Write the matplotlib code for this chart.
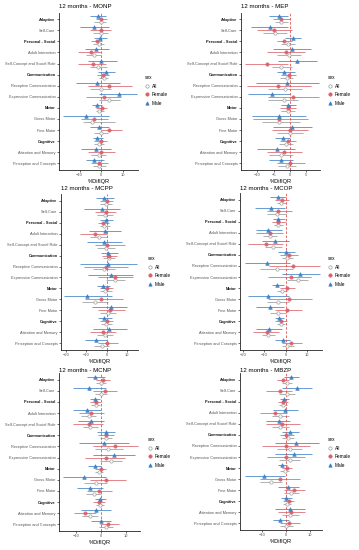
# forest plots: %DifIQR by sex, 12 months, six exposures

import matplotlib
matplotlib.use("Agg")
import matplotlib.pyplot as plt
from matplotlib.lines import Line2D

plt.rcParams['font.family'] = ['Liberation Sans', 'DejaVu Sans']

categories = ["Adaptive", "Self-Care", "Personal - Social", "Adult Interaction",
              "Self-Concept and Social Role", "Communication", "Receptive Communication",
              "Expressive Communication", "Motor", "Gross Motor", "Fine Motor",
              "Cognitive", "Attention and Memory", "Perception and Concepts"]
bold_cats = ["Adaptive", "Personal - Social", "Communication", "Motor", "Cognitive"]
titles = ["12 months - MONP", "12 months - MEP", "12 months - MCPP",
          "12 months - MCOP", "12 months - MCNP", "12 months - MBZP"]
sexes = ["All", "Female", "Male"]

# (estimate, lower, upper) for each category
monp_all = [(-0.3,-3.1,2.0), (0.0,-3.8,3.1), (-1.1,-3.8,1.5), (-3.4,-6.9,0.0), (-1.4,-5.4,2.6),
            (1.1,-1.1,3.1), (0.0,-5.4,4.6), (3.8,-0.8,8.5), (-0.8,-2.6,1.5), (-4.2,-8.5,6.2),
            (0.0,-3.1,3.1), (-1.1,-3.1,1.1), (-1.2,-4.6,2.3), (-1.1,-3.8,2.0)]
monp_female = [(0.0,-2.6,2.6), (0.0,-5.4,4.6), (-2.0,-4.6,0.5), (-4.6,-10.8,0.0), (-3.8,-10.8,2.0),
               (0.8,-2.0,3.8), (3.8,-6.2,14.3), (1.1,-7.2,9.2), (0.2,-2.3,2.6), (-3.5,-9.2,3.1),
               (3.8,0.0,9.7), (-0.3,-3.1,2.6), (0.0,-6.2,6.2), (-1.1,-4.6,3.1)]
monp_male = [(-1.5,-5.4,2.3), (-3.1,-10.0,3.8), (-0.5,-3.1,2.6), (-2.3,-7.7,3.5), (0.0,-6.2,7.2),
             (2.0,-1.5,6.2), (-1.8,-11.8,8.8), (8.2,-0.8,16.5), (-1.8,-4.1,0.5), (-7.2,-17.7,3.8),
             (-0.8,-5.4,3.8), (-1.8,-3.8,0.8), (-2.3,-9.2,4.6), (-3.1,-7.2,1.1)]

mep_all = [(-2.6,-4.6,-0.5), (-4.6,-8.2,-1.0), (-0.5,-2.6,1.5), (-0.2,-3.9,3.3), (-2.6,-5.6,0.5),
           (-1.0,-3.1,1.0), (-1.5,-6.6,3.6), (-1.8,-6.6,2.6), (-0.5,-2.6,1.5), (-3.3,-8.7,3.1),
           (0.0,-4.1,4.1), (-1.2,-3.3,1.0), (-2.6,-6.3,1.0), (-0.8,-3.6,2.0)]
mep_female = [(-2.6,-5.3,0.0), (-4.9,-10.0,0.5), (-1.8,-4.1,0.5), (-1.2,-6.9,4.6), (-7.1,-13.8,-0.5),
              (-0.2,-2.6,2.0), (-3.6,-13.3,6.3), (1.0,-6.6,9.0), (-0.5,-3.1,2.0), (-3.3,-11.4,5.4),
              (0.0,-5.6,5.6), (-0.5,-3.1,2.0), (-1.8,-6.9,3.6), (0.0,-4.1,4.6)]
mep_male = [(-3.3,-6.3,-0.5), (-6.1,-12.0,-0.5), (0.8,-1.5,3.3), (0.5,-5.1,6.3), (2.2,-3.6,8.4),
            (-1.8,-4.1,1.5), (-0.8,-10.4,9.0), (-5.4,-12.8,0.0), (-0.5,-2.9,2.0), (-3.4,-11.7,4.9),
            (0.5,-5.3,6.6), (-2.2,-4.6,0.0), (-4.1,-10.0,1.5), (-2.6,-6.3,1.0)]

mcpp_all = [(-0.3,-3.2,2.4), (-0.8,-4.8,3.2), (-1.1,-3.5,1.6), (-3.7,-8.1,0.3), (-0.3,-4.8,4.0),
            (1.0,-1.9,4.0), (-1.1,-6.5,4.0), (4.0,-0.3,8.9), (-0.6,-3.5,2.4), (-5.6,-12.1,0.8),
            (0.8,-3.2,4.8), (-0.3,-2.9,2.4), (-0.8,-4.8,3.2), (-2.4,-6.0,1.3)]
mcpp_female = [(0.0,-3.5,2.9), (-0.3,-5.6,4.8), (-1.6,-4.0,1.3), (-5.6,-12.9,0.0), (0.3,-5.6,8.9),
               (1.1,-2.4,5.2), (-0.3,-11.3,10.5), (4.0,-4.0,12.9), (0.0,-3.2,3.2), (-2.7,-10.5,8.1),
               (1.6,-4.0,8.9), (0.0,-3.2,2.9), (-1.6,-8.1,4.8), (0.3,-4.0,5.6)]
mcpp_male = [(-1.1,-5.2,3.5), (-2.1,-11.0,6.5), (-0.3,-3.2,2.9), (-0.8,-8.4,6.8), (-1.1,-9.7,7.3),
             (0.8,-2.7,5.6), (0.8,-13.2,14.8), (2.1,-8.9,12.9), (-1.6,-4.8,1.6), (-9.4,-21.0,2.4),
             (1.9,-7.3,10.0), (-1.1,-4.0,2.4), (1.3,-6.5,10.0), (-5.2,-10.5,0.3)]

mcop_all = [(-2.2,-4.3,0.2), (-4.3,-8.7,0.2), (-3.5,-5.5,-1.1), (-7.4,-10.9,-3.9), (-5.8,-9.8,-1.9),
            (0.5,-1.9,3.3), (-4.3,-12.1,3.6), (5.5,0.8,10.6), (-1.9,-4.3,0.5), (-3.8,-9.0,1.3),
            (-3.8,-7.4,0.2), (-2.4,-4.3,-0.3), (-8.2,-11.3,-5.0), (0.8,-1.9,3.9)]
mcop_female = [(-1.9,-5.0,1.7), (-3.5,-9.0,2.8), (-3.5,-6.6,0.2), (-7.4,-14.0,-1.1), (-9.3,-17.6,-1.1),
               (1.3,-2.7,5.5), (3.6,-7.7,15.9), (2.5,-8.2,11.8), (0.5,-2.7,4.4), (1.3,-8.2,12.3),
               (0.5,-5.0,7.6), (-2.4,-5.0,0.5), (-8.7,-15.3,-3.0), (2.5,-1.9,7.6)]
mcop_male = [(-3.5,-7.4,0.2), (-7.1,-14.5,-0.3), (-3.5,-6.1,-0.3), (-8.2,-14.0,-1.9), (-5.0,-11.3,1.7),
             (0.2,-3.5,4.4), (-8.7,-19.2,2.0), (6.8,-1.9,15.9), (-3.9,-6.6,-0.8), (-8.2,-17.6,1.3),
             (-7.4,-14.0,-0.8), (-3.0,-5.0,-0.8), (-7.7,-14.0,-1.9), (-1.1,-5.0,2.0)]

mcnp_all = [(-0.3,-2.3,1.8), (-0.3,-2.7,2.3), (-2.3,-4.1,-0.7), (-5.0,-8.1,-2.0), (-4.5,-7.4,-1.4),
            (1.8,-0.7,4.1), (2.7,-2.7,8.5), (3.8,-0.7,8.1), (-1.1,-2.7,0.7), (-2.0,-6.8,2.3),
            (-3.1,-6.1,0.0), (-0.7,-2.3,0.9), (-4.7,-7.7,-1.4), (1.8,-0.9,4.7)]
mcnp_female = [(0.7,-2.0,3.4), (1.4,-3.4,6.4), (-2.0,-4.5,0.0), (-4.3,-8.8,1.0), (-5.0,-11.2,0.7),
               (1.8,-1.4,5.0), (5.4,-3.4,14.5), (2.0,-6.4,9.5), (-0.3,-2.7,2.0), (1.8,-4.5,9.9),
               (-0.9,-5.8,4.1), (-0.9,-3.4,1.4), (-6.4,-10.8,-2.0), (2.7,-0.4,7.2)]
mcnp_male = [(-2.7,-5.8,1.4), (-5.0,-11.2,2.0), (-2.7,-4.7,-0.7), (-5.8,-11.5,0.0), (-4.1,-9.5,1.0),
             (1.8,-1.6,5.4), (0.9,-9.0,11.2), (5.1,-3.4,13.5), (-2.7,-5.4,0.0), (-6.8,-15.5,2.0),
             (-4.7,-9.9,0.7), (-0.4,-2.7,2.0), (-2.3,-8.1,3.8), (0.0,-4.1,3.8)]

mbzp_all = [(0.4,-1.7,2.5), (0.4,-3.0,3.9), (-1.2,-2.8,0.4), (-2.3,-5.7,1.1), (-2.3,-5.7,1.1),
            (0.7,-1.7,3.2), (1.5,-3.7,6.6), (1.5,-3.0,5.9), (-0.6,-2.3,1.1), (-6.1,-10.6,-1.7),
            (2.2,-0.7,5.2), (0.4,-1.2,2.2), (1.8,-1.7,5.2), (0.1,-2.3,2.9)]
mbzp_female = [(-1.2,-3.7,1.1), (-2.6,-8.1,2.5), (-1.4,-3.4,0.7), (-4.7,-10.6,0.4), (-1.7,-8.1,5.9),
               (0.1,-2.6,3.2), (0.0,-9.9,10.0), (0.1,-7.9,8.0), (0.4,-1.7,2.5), (-2.6,-10.6,5.9),
               (3.2,-1.0,8.0), (1.1,-1.2,3.4), (2.2,-3.4,8.0), (1.1,-2.6,5.9)]
mbzp_male = [(2.2,-0.7,5.2), (4.6,-1.7,10.8), (-1.0,-2.6,1.1), (-0.3,-5.4,4.8), (-3.0,-8.1,1.8),
             (1.8,-1.7,5.2), (4.3,-4.4,13.5), (3.2,-4.4,10.8), (-1.7,-3.4,0.4), (-9.0,-16.8,-0.3),
             (0.8,-3.4,5.2), (0.1,-2.1,2.5), (1.8,-4.4,8.0), (-2.3,-5.4,1.1)]

panel_data = [(monp_all, monp_female, monp_male), (mep_all, mep_female, mep_male),
              (mcpp_all, mcpp_female, mcpp_male), (mcop_all, mcop_female, mcop_male),
              (mcnp_all, mcnp_female, mcnp_male), (mbzp_all, mbzp_female, mbzp_male)]

# layout in pixels: panel box (left, top, right, bottom), x limits, ticks, legend anchor
W, H = 359, 550
boxes = [(59, 12.5, 138, 170), (241, 12.5, 320, 170), (61, 194, 138, 350),
         (240, 193, 322, 350), (59, 373, 140, 531), (240, 373, 322, 530)]
xlims = [(-19.5, 17), (-15, 9.2), (-22.3, 15.3), (-21.5, 17), (-17, 15.5), (-19, 14.9)]
xticks = [[-10, 0, 10], [-10, -5, 0, 5], [-20, -10, 0, 10], [-20, -10, 0, 10],
          [-10, 0, 10], [-10, 0, 10]]
title_y = [7, 7, 189, 189, 370, 370]
legend_xy = [(145, 75), (328, 75), (148, 256), (328, 256), (148, 437), (328, 437)]

colors = {"All": "#9a9a9a", "Female": "#d9606a", "Male": "#3b7fc4"}
markers = {"All": "o", "Female": "o", "Male": "^"}
offsets = {"All": 0.27, "Female": 0.0, "Male": -0.27}

fig = plt.figure(figsize=(W / 100, H / 100), dpi=100)

for k in range(6):
    l, t, r, b = boxes[k]
    ax = fig.add_axes([l / W, 1 - b / H, (r - l) / W, (b - t) / H])
    ypos = range(len(categories))
    for sex, series in zip(sexes, panel_data[k]):
        est = [s[0] for s in series]
        lo = [s[0] - s[1] for s in series]
        hi = [s[2] - s[0] for s in series]
        y = [i + offsets[sex] for i in ypos]
        c = colors[sex]
        ax.errorbar(est, y, xerr=[lo, hi], fmt=markers[sex], color=c, ecolor=c,
                    elinewidth=0.6, capsize=0, ms=2.4 if sex != "Male" else 2.6,
                    mfc="white" if sex == "All" else c, mec=c, mew=0.5, alpha=0.9)
    ax.axvline(0, color="#e0504f", ls=(0, (3, 2)), lw=0.6)
    ax.set_xlim(xlims[k])
    ax.set_ylim(len(categories) - 0.4, -0.6)
    ax.set_yticks(list(ypos))
    ax.set_yticklabels(categories)
    for lab in ax.get_yticklabels():
        if lab.get_text() in bold_cats:
            lab.set_fontweight("bold")
            lab.set_color("#1a1a1a")
        else:
            lab.set_color("#555555")
    ax.set_xticks(xticks[k])
    ax.tick_params(axis="y", labelsize=2.8, length=1.5, width=0.4, pad=1)
    ax.tick_params(axis="x", labelsize=2.9, length=1.5, width=0.4, pad=1, labelcolor="#555555")
    for s in ["top", "right"]:
        ax.spines[s].set_visible(False)
    for s in ["left", "bottom"]:
        ax.spines[s].set_linewidth(0.6)
        ax.spines[s].set_color("#222222")
    ax.set_xlabel("%DifIQR", fontsize=4.1, labelpad=1)
    fig.text(l / W, 1 - title_y[k] / H, titles[k], fontsize=4.4, ha="left", va="center")

    handles = []
    for sex in sexes:
        c = colors[sex]
        handles.append(Line2D([0], [0], marker=markers[sex], color=c, lw=0, ms=2.4,
                              mfc="white" if sex == "All" else c, mec=c, mew=0.5))
    lx, ly = legend_xy[k]
    leg = fig.legend(handles, sexes, title="sex", loc="upper left",
                     bbox_to_anchor=(lx / W, 1 - ly / H), frameon=False, fontsize=3.4,
                     title_fontsize=3.4, handlelength=0.8, handletextpad=0.6,
                     labelspacing=0.75, borderpad=0, borderaxespad=0, alignment="left")

fig.savefig("out.png", dpi=100)
